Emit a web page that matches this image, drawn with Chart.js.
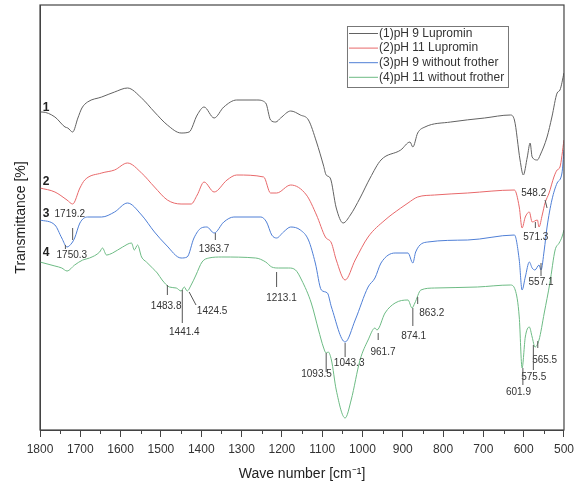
<!DOCTYPE html>
<html>
<head>
<meta charset="utf-8">
<script src="https://cdn.jsdelivr.net/npm/chart.js@4.4.1/dist/chart.umd.min.js"></script>
<style>
  html, body { margin: 0; padding: 0; background: #fff; }
  #wrap { width: 579px; height: 484px; }
</style>
</head>
<body>
<div id="wrap"><canvas id="ftir"></canvas></div>
<script>
// FTIR spectra, wave number (cm-1) vs. transmittance (offset curves, arbitrary units)
const seriesNames = ['(1)pH 9 Lupromin', '(2)pH 11 Lupromin', '(3)pH 9 without frother', '(4)pH 11 without frother'];
const seriesColors = ['#626262', '#e8686a', '#4f7fd6', '#6dbb84'];

const wn1 = [1800,1795,1763,1738,1731,1719,1706,1696,1682,1647,1615,1583,1548,1516,1484,1450,1430,1410,1393,1368,1344,1312,1262,1240,1228,1215,1203,1178,1154,1134,1114,1097,1090,1080,1065,1048,1030,1006,981,954,905,882,875,863,845,781,697,633,623,609,601,591,584,579,566,559,542,530,517,510,500];
const t1 = [63.6,63.6,62.6,60.6,60.4,59.6,62.4,64.4,65.6,66.6,67.6,68.4,66.4,63.6,61.0,59.4,59.6,63.0,64.6,62.4,64.6,66.0,66.0,65.4,62.0,61.6,62.4,63.8,63.0,62.0,57.6,53.0,51.0,50.4,44.4,41.4,43.0,46.4,50.4,54.0,56.0,57.6,56.6,59.4,60.6,61.6,62.4,63.0,62.0,54.0,51.0,54.6,57.4,54.6,54.0,55.0,58.6,62.6,67.4,68.0,71.4];

const wn2 = [1800,1763,1733,1719,1701,1689,1647,1615,1583,1548,1516,1484,1450,1425,1410,1393,1368,1336,1312,1245,1228,1213,1178,1139,1114,1092,1077,1065,1043,1018,986,944,905,887,863,821,739,623,611,604,596,586,579,566,562,554,547,537,525,517,510,500];
const t2 = [48.4,47.6,46.0,45.2,48.4,50.0,51.4,52.0,53.4,51.4,48.6,46.0,45.2,45.2,47.0,49.6,47.6,50.0,51.0,50.6,47.4,47.4,49.0,47.0,43.0,38.6,37.4,34.0,30.0,34.0,38.6,42.0,44.4,45.4,46.6,47.0,47.4,48.0,44.6,40.4,42.6,43.6,41.6,42.0,40.6,43.0,45.4,47.4,50.6,52.0,52.6,58.0];

const wn3 = [1800,1763,1746,1733,1721,1714,1701,1682,1647,1615,1583,1548,1516,1487,1450,1435,1418,1400,1386,1368,1344,1319,1252,1238,1225,1213,1196,1178,1154,1134,1117,1102,1087,1077,1043,1018,986,969,954,919,887,875,868,838,739,623,611,604,596,586,579,572,562,557,549,542,530,517,505,500];
const t3 = [42.0,41.0,38.4,36.6,37.4,38.4,41.4,42.6,42.6,43.6,45.4,43.0,39.6,37.0,34.4,34.6,38.4,40.4,40.6,39.4,41.6,42.6,42.6,41.6,39.0,38.4,39.6,40.6,40.0,38.0,33.4,28.0,27.4,24.6,17.6,22.0,28.6,30.4,33.4,35.4,35.4,33.4,35.6,37.6,38.0,39.0,34.0,28.0,30.6,33.6,32.4,32.0,33.0,32.0,36.0,40.6,46.0,49.4,51.4,56.0];

const wn4 = [1800,1763,1746,1733,1714,1694,1677,1652,1645,1635,1620,1595,1573,1566,1558,1548,1536,1521,1509,1497,1479,1462,1450,1442,1435,1425,1413,1398,1381,1349,1265,1240,1225,1208,1183,1166,1151,1127,1109,1097,1090,1085,1077,1065,1043,1028,1006,986,969,964,944,919,887,877,870,855,821,715,633,621,611,604,596,586,579,572,562,549,535,522,512,505,500];
const t4 = [33.6,32.8,32.4,31.8,33.0,34.0,34.4,35.6,36.4,35.0,35.4,36.6,37.4,36.0,37.0,34.6,33.6,32.4,31.4,30.0,28.6,28.4,27.8,28.6,27.8,29.0,31.0,33.6,34.4,34.6,34.4,33.6,32.6,32.4,32.4,32.0,30.0,25.4,20.0,16.6,15.4,15.6,14.0,8.0,2.4,6.0,14.0,18.0,20.4,20.0,23.4,25.4,26.0,24.4,25.4,28.0,28.4,28.6,29.0,28.0,22.6,12.4,18.6,20.6,18.6,16.6,18.0,23.4,29.4,36.0,37.4,38.6,40.0];

// peak labels: text, label anchor [wn, value], tick line [wn, value, wn, value]
const peakNotes = [
    {text: '1719.2', at: [1726, 43.2], tick: [1719, 40.4, 1719, 38.0]},
    {text: '1750.3', at: [1721, 35.0], tick: [1737, 37.0, 1737, 36.2]},
    {text: '1363.7', at: [1368, 36.2], tick: [1365, 39.4, 1365, 38.0]},
    {text: '1483.8', at: [1487, 24.8], tick: [1484, 29.0, 1484, 27.0]},
    {text: '1441.4', at: [1442, 19.6], tick: [1447, 28.0, 1447, 21.4]},
    {text: '1424.5', at: [1373, 23.8], tick: [1430, 27.6, 1413, 25.0]},
    {text: '1213.1', at: [1201, 26.4], tick: [1213, 31.6, 1213, 28.6]},
    {text: '1093.5', at: [1114, 11.2], tick: [1090, 15.4, 1090, 11.6]},
    {text: '1043.3', at: [1033, 13.4], tick: [1043, 17.4, 1043, 14.6]},
    {text: '961.7', at: [949, 15.6], tick: [961, 19.4, 961, 18.0]},
    {text: '874.1', at: [873, 18.8], tick: [875, 24.4, 875, 20.8]},
    {text: '863.2', at: [828, 23.4], tick: [863, 26.6, 863, 25.2]},
    {text: '548.2', at: [575, 47.4], tick: [547, 46.0, 542, 44.4]},
    {text: '571.3', at: [570, 38.6], tick: [571, 41.6, 571, 40.4]},
    {text: '557.1', at: [557, 29.6], tick: [557, 33.4, 557, 30.8]},
    {text: '565.5', at: [548, 14.0], tick: [565, 17.8, 565, 16.4]},
    {text: '575.5', at: [575, 10.6], tick: [576, 17.0, 576, 12.0]},
    {text: '601.9', at: [613, 7.6], tick: [602, 12.4, 602, 9.0]}
];
const curveNumbers = [['1', 1785, 64.4], ['2', 1785, 49.6], ['3', 1785, 43.2], ['4', 1785, 35.4]];

const FONT = '"Liberation Sans", Arial, sans-serif';

function toPoints(xs, ys) {
    return xs.map((w, i) => ({x: w, y: ys[i]}));
}

const framePlugin = {
    id: 'frame',
    afterDraw(chart) {
        const {ctx, chartArea: a, scales: {x}} = chart;
        ctx.save();
        ctx.strokeStyle = '#444';
        ctx.lineWidth = 1.2;
        ctx.strokeRect(a.left, a.top, a.right - a.left, a.bottom - a.top);
        // minor ticks every 50
        ctx.lineWidth = 1;
        for (let v = 550; v < 1800; v += 100) {
            const px = Math.round(x.getPixelForValue(v)) + 0.5;
            ctx.beginPath();
            ctx.moveTo(px, a.bottom);
            ctx.lineTo(px, a.bottom + 4);
            ctx.stroke();
        }
        ctx.restore();
    }
};

const peakPlugin = {
    id: 'peaks',
    afterDatasetsDraw(chart) {
        const {ctx, scales: {x, y}} = chart;
        ctx.save();
        ctx.strokeStyle = '#555';
        ctx.lineWidth = 1;
        ctx.fillStyle = '#333';
        ctx.font = '10px ' + FONT;
        ctx.textAlign = 'center';
        ctx.textBaseline = 'middle';
        peakNotes.forEach(n => {
            ctx.beginPath();
            ctx.moveTo(x.getPixelForValue(n.tick[0]), y.getPixelForValue(n.tick[1]));
            ctx.lineTo(x.getPixelForValue(n.tick[2]), y.getPixelForValue(n.tick[3]));
            ctx.stroke();
            ctx.fillText(n.text, x.getPixelForValue(n.at[0]), y.getPixelForValue(n.at[1]));
        });
        ctx.font = 'bold 12px ' + FONT;
        ctx.fillStyle = '#222';
        curveNumbers.forEach(c => {
            ctx.fillText(c[0], x.getPixelForValue(c[1]), y.getPixelForValue(c[2]));
        });
        ctx.restore();
    }
};

const legendPlugin = {
    id: 'boxLegend',
    afterDraw(chart) {
        const {ctx, chartArea} = chart;
        const left = chartArea.right - 217;
        const top = chartArea.top + 21;
        const w = 161, h = 61;
        ctx.save();
        ctx.fillStyle = '#fff';
        ctx.fillRect(left, top, w, h);
        ctx.strokeStyle = '#777';
        ctx.lineWidth = 1;
        ctx.strokeRect(left + 0.5, top + 0.5, w, h);
        ctx.font = '12px ' + FONT;
        ctx.textBaseline = 'middle';
        ctx.textAlign = 'left';
        chart.data.datasets.forEach((ds, i) => {
            const cy = top + 7.5 + i * 14.6;
            ctx.strokeStyle = ds.borderColor;
            ctx.beginPath();
            ctx.moveTo(left + 2, cy);
            ctx.lineTo(left + 31, cy);
            ctx.stroke();
            ctx.fillStyle = '#333';
            ctx.fillText(ds.label, left + 32, cy);
        });
        ctx.restore();
    }
};

const allX = [wn1, wn2, wn3, wn4];
const allY = [t1, t2, t3, t4];

new Chart(document.getElementById('ftir'), {
    type: 'line',
    data: {
        datasets: seriesNames.map((name, i) => ({
            label: name,
            data: toPoints(allX[i], allY[i]),
            borderColor: seriesColors[i],
            borderWidth: 1,
            pointRadius: 0,
            cubicInterpolationMode: 'monotone',
            fill: false
        }))
    },
    options: {
        responsive: true,
        maintainAspectRatio: false,
        animation: false,
        devicePixelRatio: 1,
        layout: {padding: {top: 5, right: 12, left: 0, bottom: 0}},
        plugins: {
            legend: {display: false},
            tooltip: {enabled: false}
        },
        scales: {
            x: {
                type: 'linear',
                reverse: true,
                min: 500,
                max: 1800,
                ticks: {
                    stepSize: 100,
                    color: '#333',
                    padding: 5,
                    font: {family: FONT, size: 12},
                    callback: v => String(v)
                },
                grid: {drawOnChartArea: false, tickLength: 7, tickColor: '#444', tickWidth: 1},
                border: {color: '#444', width: 1},
                title: {
                    display: true,
                    text: 'Wave number [cm\u207B\u00B9]',
                    color: '#222',
                    font: {family: FONT, size: 14},
                    padding: {top: 0, bottom: 1}
                },
                afterFit(scale) { scale.height = 54; }
            },
            y: {
                min: 0,
                max: 85,
                ticks: {display: false},
                grid: {display: false},
                border: {display: true, color: '#444', width: 1},
                title: {
                    display: true,
                    text: 'Transmittance [%]',
                    color: '#222',
                    font: {family: FONT, size: 14},
                    padding: {top: 13, bottom: 0}
                },
                afterFit(scale) { scale.width = 40; }
            }
        }
    },
    plugins: [framePlugin, peakPlugin, legendPlugin]
});
</script>
</body>
</html>
